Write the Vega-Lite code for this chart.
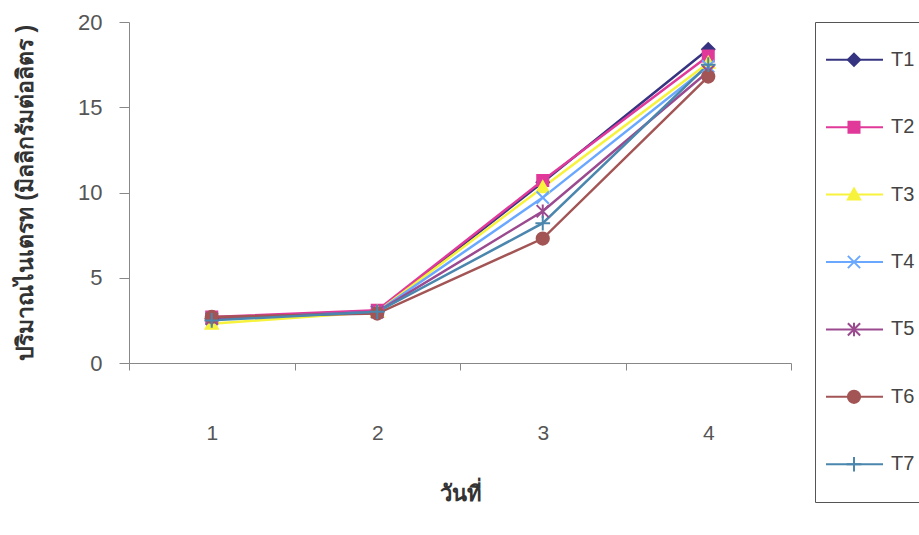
{
  "$schema": "https://vega.github.io/schema/vega-lite/v6.json",
  "autosize": {"type": "pad"},
  "padding": {"left": 14, "top": 10, "right": 0, "bottom": 0},
  "background": "white",
  "spacing": 22,
  "data": {
    "values": [
      {"day": "1", "series": "T1", "value": 2.6},
      {"day": "2", "series": "T1", "value": 3.0},
      {"day": "3", "series": "T1", "value": 10.6},
      {"day": "4", "series": "T1", "value": 18.4},
      {"day": "1", "series": "T2", "value": 2.7},
      {"day": "2", "series": "T2", "value": 3.1},
      {"day": "3", "series": "T2", "value": 10.7},
      {"day": "4", "series": "T2", "value": 18.0},
      {"day": "1", "series": "T3", "value": 2.3},
      {"day": "2", "series": "T3", "value": 3.0},
      {"day": "3", "series": "T3", "value": 10.3},
      {"day": "4", "series": "T3", "value": 17.6},
      {"day": "1", "series": "T4", "value": 2.6},
      {"day": "2", "series": "T4", "value": 3.0},
      {"day": "3", "series": "T4", "value": 9.7},
      {"day": "4", "series": "T4", "value": 17.4},
      {"day": "1", "series": "T5", "value": 2.6},
      {"day": "2", "series": "T5", "value": 3.0},
      {"day": "3", "series": "T5", "value": 8.9},
      {"day": "4", "series": "T5", "value": 17.1},
      {"day": "1", "series": "T6", "value": 2.7},
      {"day": "2", "series": "T6", "value": 2.9},
      {"day": "3", "series": "T6", "value": 7.3},
      {"day": "4", "series": "T6", "value": 16.8},
      {"day": "1", "series": "T7", "value": 2.5},
      {"day": "2", "series": "T7", "value": 3.0},
      {"day": "3", "series": "T7", "value": 8.2},
      {"day": "4", "series": "T7", "value": 17.5}
    ]
  },
  "hconcat": [
    {
      "width": 662,
      "height": 341,
      "encoding": {
        "x": {
          "field": "day",
          "type": "ordinal",
          "scale": {"type": "band", "paddingInner": 0, "paddingOuter": 0},
          "axis": {
            "title": "วันที่",
            "labelAngle": 0,
            "tickBand": "extent",
            "tickSize": 7,
            "labelPadding": 52,
            "titlePadding": 40,
            "labelFontSize": 21,
            "titleFontSize": 22
          }
        },
        "y": {
          "field": "value",
          "type": "quantitative",
          "scale": {"domain": [0, 20], "nice": false},
          "axis": {
            "title": "ปริมาณไนเตรท (มิลลิกรัมต่อลิตร )",
            "values": [0, 5, 10, 15, 20],
            "grid": false,
            "tickSize": 10,
            "labelPadding": 17,
            "titlePadding": 40,
            "labelFontSize": 22,
            "titleFontSize": 23
          }
        }
      },
      "layer": [
        {
          "mark": {"type": "line", "strokeWidth": 2.5},
          "encoding": {
            "color": {"field": "series", "type": "nominal", "legend": null}
          }
        },
        {
          "mark": {"type": "point", "filled": true, "opacity": 1, "strokeWidth": 2},
          "encoding": {
            "color": {"field": "series", "type": "nominal", "legend": null},
            "stroke": {"field": "series", "type": "nominal", "legend": null},
            "shape": {
              "field": "series",
              "type": "nominal",
              "legend": null,
              "scale": {
                "domain": ["T1", "T2", "T3", "T4", "T5", "T6", "T7"],
                "range": [
                  "M0,-1L1,0L0,1L-1,0Z",
                  "M-0.9,-0.9H0.9V0.9H-0.9Z",
                  "M0,-1L1,0.8H-1Z",
                  "M-1,-1L1,1M-1,1L1,-1",
                  "M-1,-1L1,1M-1,1L1,-1M0,-1.1V1.1",
                  "M1,0A1,1,0,1,1,-1,0A1,1,0,1,1,1,0Z",
                  "M-1.2,0H1.2M0,-1.2V1.2"
                ]
              }
            },
            "size": {"value": 150}
          }
        }
      ]
    },
    {
      "width": 110,
      "height": 480,
      "title": {"text": " ", "fontSize": 1, "offset": 10},
      "view": {"stroke": "#555555", "strokeWidth": 1},
      "transform": [{"filter": "datum.day === '1'"}],
      "encoding": {
        "y": {
          "field": "series",
          "type": "ordinal",
          "scale": {"type": "point", "padding": 0.56, "domain": ["T1", "T2", "T3", "T4", "T5", "T6", "T7"]},
          "axis": null
        }
      },
      "layer": [
        {
          "mark": {"type": "rule", "strokeWidth": 2},
          "encoding": {
            "x": {"datum": 11, "type": "quantitative", "scale": {"domain": [0, 110]}, "axis": null},
            "x2": {"datum": 68},
            "color": {"field": "series", "type": "nominal", "legend": null}
          }
        },
        {
          "mark": {"type": "point", "filled": true, "opacity": 1, "strokeWidth": 2},
          "encoding": {
            "x": {"datum": 39, "type": "quantitative"},
            "color": {"field": "series", "type": "nominal", "legend": null},
            "stroke": {"field": "series", "type": "nominal", "legend": null},
            "shape": {"field": "series", "type": "nominal", "legend": null},
            "size": {"value": 150}
          }
        },
        {
          "mark": {"type": "text", "align": "left", "baseline": "middle", "fontSize": 20, "color": "#444444", "font": "Liberation Sans"},
          "encoding": {
            "x": {"datum": 76, "type": "quantitative"},
            "text": {"field": "series"}
          }
        }
      ]
    }
  ],
  "resolve": {"scale": {"x": "independent", "y": "independent"}},
  "config": {
    "range": {
      "category": ["#363480", "#e0399a", "#f7f23c", "#6aa8ff", "#9b4a8f", "#a35454", "#4a86ad"]
    },
    "font": "Liberation Sans",
    "view": {"stroke": null},
    "axis": {
      "labelColor": "#555555",
      "titleColor": "#333333",
      "domainColor": "#888888",
      "tickColor": "#888888",
      "labelFont": "Liberation Sans",
      "titleFont": "Liberation Sans",
      "titleFontWeight": "bold"
    }
  }
}
